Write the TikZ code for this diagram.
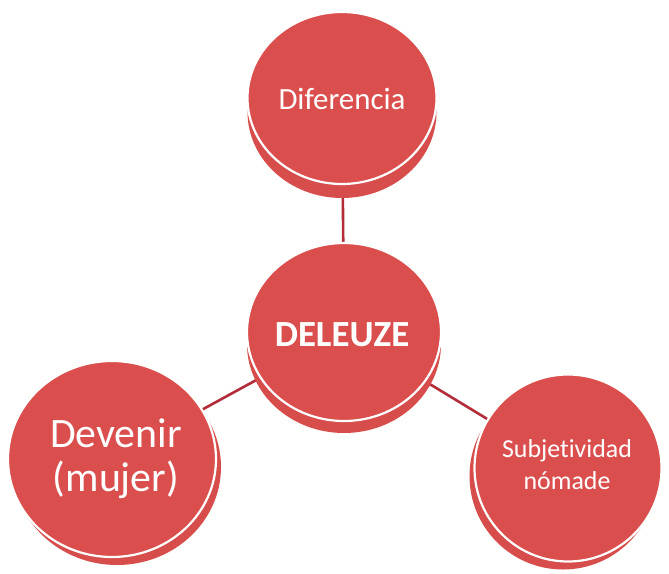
\documentclass[tikz,border=0pt]{standalone}
\usepackage{fontspec}
\setmainfont[Ligatures=NoCommon]{Carlito}
\usetikzlibrary{shapes.geometric,shadows,backgrounds}
\definecolor{disk}{RGB}{218,79,77}
\definecolor{diskside}{RGB}{214,77,75}
\definecolor{linkred}{RGB}{178,44,58}
\begin{document}
\begin{tikzpicture}[x=1bp,y=-1bp,
  disk/.style={ellipse, fill=disk, draw=white, line width=2.2bp,
    inner sep=0pt, outer sep=0pt},
  rim/.style 2 args={general shadow={shadow xshift=#1, shadow yshift=#2, fill=diskside}},
  label text/.style={text=white, align=center, inner sep=0pt},
  link/.style={draw=linkred, line width=2.6bp}]
\useasboundingbox (0,0) rectangle (669,574);

% disks: a front face with a thicker rim showing behind it
\node[disk, minimum width=189bp, minimum height=172bp, rim={0bp}{-14bp}] (dif) at (342,98) {};
\node[disk, minimum width=194bp, minimum height=178bp, rim={0bp}{-12bp}] (del) at (344,332) {};
\node[disk, minimum width=208bp, minimum height=196bp, rim={5bp}{-8bp}] (dev) at (112,459) {};
\node[disk, minimum width=187bp, minimum height=187bp, rim={-5bp}{-8bp}] (sub) at (568,468) {};

% texts on the disks
\node[label text, font=\fontsize{31}{37}\selectfont] (diftext) at (342,99) {Diferencia};
\node[label text, font=\fontsize{37}{44}\selectfont\bfseries] (deltext) at (342,335) {DELEUZE};
\node[label text, font=\fontsize{42}{44}\selectfont] (devtext) at (116,459) {Devenir\\(mujer)};
\node[label text, font=\fontsize{26}{32}\selectfont] (subtext) at (567,465) {Subjetividad\\nómade};

% connectors run behind the disks
\begin{scope}[on background layer]
  \draw[link] (dif.center) -- (del.center);
  \draw[link] (del.center) -- (dev.center);
  \draw[link] (del.center) -- (sub.center);
\end{scope}
\end{tikzpicture}
\end{document}
